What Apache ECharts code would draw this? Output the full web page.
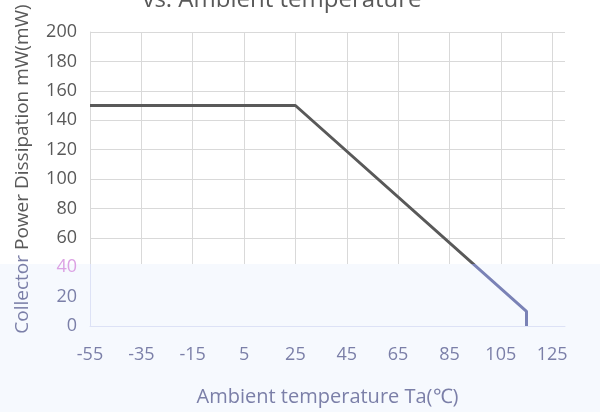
<!DOCTYPE html>
<html><head><meta charset="utf-8">
<script src="https://cdn.jsdelivr.net/npm/echarts@6/dist/echarts.min.js"></script>
<style>html,body{margin:0;padding:0;background:#fff}#c{width:600px;height:412px}</style>
</head><body><div id="c"></div>
<script>
// ---- data ----
const temperatures = [-55, 25, 115, 115];
const powerDissipation = [150, 150, 10, 0];
const xTickLabels = ['-55', '-35', '-15', '5', '25', '45', '65', '85', '105', '125'];
const yTickLabels = ['0', '20', '40', '60', '80', '100', '120', '140', '160', '180', '200'];
const titleText = 'vs. Ambient temperature';
const xAxisTitle = 'Ambient temperature Ta(\u2103)';
const yAxisTitleParts = ['Collector ', 'Power Dissipation mW(mW)'];

// ---- styling ----
const X_START = -55;
const FONT = 'Open Sans';
const GRAY = '#595959', GRID = '#d9d9d9';
const BLUE_TXT = '#7b7fa8', BLUE_LINE = '#7a82b6', BLUE_AXIS = '#dde2f6', TINT = '#f6f9fe', NOISE = '#dca2e4';
const CUT = 264 / 412;
function split(top, bottom) {
  return { type: 'linear', x: 0, y: 0, x2: 0, y2: 412, global: true,
    colorStops: [{ offset: 0, color: top }, { offset: CUT, color: top }, { offset: CUT, color: bottom }, { offset: 1, color: bottom }] };
}

const chart = echarts.init(document.getElementById('c'), null, { renderer: 'canvas' });
chart.setOption({
  animation: false,
  backgroundColor: { type: 'linear', x: 0, y: 0, x2: 0, y2: 1,
    colorStops: [{ offset: 0, color: '#ffffff' }, { offset: CUT, color: '#ffffff' }, { offset: CUT, color: TINT }, { offset: 1, color: TINT }] },
  grid: { left: 90, right: 35, top: 32, bottom: 85 },
  xAxis: {
    type: 'value', min: 0, max: 185, interval: 20,
    name: xAxisTitle, nameLocation: 'middle', nameGap: 61,
    nameTextStyle: { color: BLUE_TXT, fontSize: 20, fontFamily: FONT },
    axisLine: { show: true, lineStyle: { color: BLUE_AXIS, width: 1 } },
    axisTick: { show: false },
    axisLabel: {
      color: BLUE_TXT, fontSize: 18, fontFamily: FONT, margin: 20, showMaxLabel: false,
      formatter: v => { const i = Math.round(v / 20); return Math.abs(v - i * 20) < 1e-6 && xTickLabels[i] ? xTickLabels[i] : ''; }
    },
    splitLine: { show: true, showMaxLine: false, lineStyle: { color: split(GRID, 'rgba(0,0,0,0)'), width: 1 } }
  },
  yAxis: {
    type: 'value', min: 0, max: 200, interval: 20,
    axisLine: { show: true, lineStyle: { color: split(GRID, BLUE_AXIS), width: 1 } },
    axisTick: { show: false },
    axisLabel: {
      margin: 13, fontSize: 18, fontFamily: FONT, color: GRAY,
      formatter: v => { const s = yTickLabels[Math.round(v / 20)]; return v > 40 ? '{g|' + s + '}' : (v === 40 ? '{n|' + s + '}' : '{b|' + s + '}'); },
      rich: {
        g: { color: GRAY, fontSize: 18, fontFamily: FONT },
        b: { color: BLUE_TXT, fontSize: 18, fontFamily: FONT },
        n: { color: NOISE, fontSize: 18, fontFamily: FONT }
      }
    },
    splitLine: { show: true, lineStyle: { color: split(GRID, 'rgba(0,0,0,0)'), width: 1 } }
  },
  graphic: [
    { type: 'text', x: 282, y: 12, z: 10,
      style: { text: titleText, fontSize: 24, fontFamily: FONT, fill: GRAY, align: 'center', verticalAlign: 'bottom' } },
    { type: 'text', x: 23, y: 169, rotation: Math.PI / 2, z: 10,
      style: { text: '{b|' + yAxisTitleParts[0] + '}{g|' + yAxisTitleParts[1] + '}', align: 'center', verticalAlign: 'middle',
        rich: { b: { fill: BLUE_TXT, fontSize: 19, fontFamily: FONT }, g: { fill: GRAY, fontSize: 19, fontFamily: FONT } } } }
  ],
  series: [{
    type: 'line',
    data: temperatures.map((t, i) => [t - X_START, powerDissipation[i]]),
    showSymbol: false,
    lineStyle: { color: split(GRAY, BLUE_LINE), width: 3 }
  }]
});
</script></body></html>
